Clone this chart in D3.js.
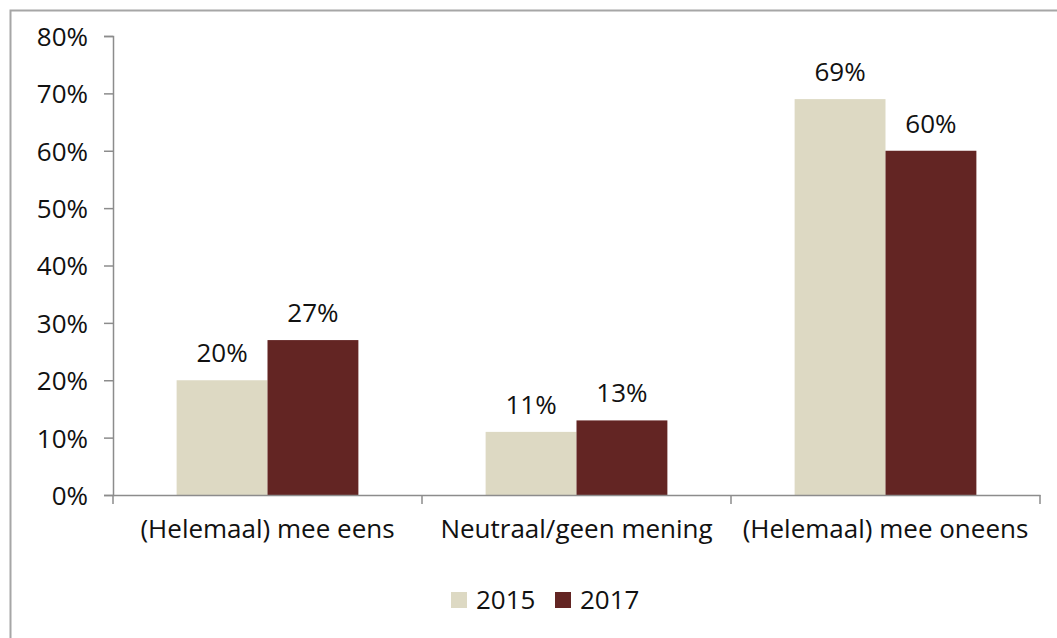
<!DOCTYPE html>
<html>
<head>
<meta charset="utf-8">
<script src="https://cdn.jsdelivr.net/npm/d3@7"></script>
<style>
  body { margin: 0; background: #fff; }
  svg text { font-family: "Open Sans", Lato, sans-serif; fill: #111; }
</style>
</head>
<body>
<div id="chart"></div>
<script>
    const categories = ["(Helemaal) mee eens", "Neutraal/geen mening", "(Helemaal) mee oneens"];
    const years = ["2015", "2017"];
    const values2015 = [20, 11, 69];
    const values2017 = [27, 13, 60];
    const yTicks = [0, 10, 20, 30, 40, 50, 60, 70, 80];
    const colors = ["#ddd9c3", "#632523"];

    const W = 1057, H = 638;
    const plot = { left: 113, right: 1040, top: 36, bottom: 495 };

    const svg = d3.select("#chart")
        .append("svg")
        .attr("width", W)
        .attr("height", H);

    // frame of the chart area (cut by the picture edge)
    svg.append("rect")
        .attr("x", 10.5).attr("y", 10.5)
        .attr("width", W + 20).attr("height", H + 20)
        .attr("fill", "none")
        .attr("stroke", "#a6a6a6")
        .attr("stroke-width", 2);

    const x0 = d3.scaleBand().domain(categories).range([plot.left, plot.right]).paddingInner(0).paddingOuter(0);
    const x1 = d3.scaleBand().domain(years).range([0, x0.bandwidth()]).paddingInner(0).paddingOuter(0.7);
    const y = d3.scaleLinear().domain([0, 80]).range([plot.bottom, plot.top]);

    const rows = categories.map((c, i) => ({ cat: c, vals: [values2015[i], values2017[i]] }));

    // bars
    const groups = svg.selectAll(".grp")
        .data(rows)
        .join("g")
        .attr("class", "grp")
        .attr("transform", d => `translate(${x0(d.cat)},0)`);

    groups.selectAll("rect")
        .data(d => d.vals.map((v, j) => ({ year: years[j], v: v, j: j })))
        .join("rect")
        .attr("x", d => x1(d.year))
        .attr("y", d => y(d.v))
        .attr("width", x1.bandwidth())
        .attr("height", d => y(0) - y(d.v))
        .attr("fill", d => colors[d.j]);

    groups.selectAll(".lbl")
        .data(d => d.vals.map((v, j) => ({ year: years[j], v: v })))
        .join("text")
        .attr("class", "lbl")
        .attr("x", d => x1(d.year) + x1.bandwidth() / 2)
        .attr("y", d => y(d.v) - 18)
        .attr("text-anchor", "middle")
        .style("font-size", "26px")
        .text(d => d.v + "%");

    // y axis
    const yAxis = d3.axisLeft(y).tickValues(yTicks).tickSize(9).tickPadding(16).tickFormat(d => d + "%");
    const ya = svg.append("g")
        .attr("transform", `translate(${plot.left},0)`)
        .call(yAxis);
    ya.selectAll("path, line").attr("stroke", "#8c8c8c").attr("stroke-width", 1.5);
    ya.selectAll("text").style("font-size", "26px").attr("dy", "0.36em");

    // x axis
    const xAxis = d3.axisBottom(x0).tickSize(0).tickPadding(25);
    const xa = svg.append("g")
        .attr("transform", `translate(0,${plot.bottom})`)
        .call(xAxis);
    xa.select("path").attr("stroke", "#8c8c8c").attr("stroke-width", 1.5);
    xa.selectAll("text").style("font-size", "26px");

    // category boundary ticks
    const bounds = categories.map(c => x0(c)).concat([plot.right]);
    svg.selectAll(".btick")
        .data(bounds)
        .join("line")
        .attr("class", "btick")
        .attr("x1", d => d).attr("x2", d => d)
        .attr("y1", plot.bottom).attr("y2", plot.bottom + 9)
        .attr("stroke", "#8c8c8c")
        .attr("stroke-width", 1.5);

    // legend
    const legend = svg.append("g").attr("transform", "translate(451,592)");
    const items = legend.selectAll("g")
        .data(years)
        .join("g")
        .attr("transform", (d, i) => `translate(${i * 104},0)`);
    items.append("rect")
        .attr("width", 16).attr("height", 16)
        .attr("fill", (d, i) => colors[i]);
    items.append("text")
        .attr("x", 25).attr("y", 17)
        .style("font-size", "26px")
        .text(d => d);
</script>
</body>
</html>
